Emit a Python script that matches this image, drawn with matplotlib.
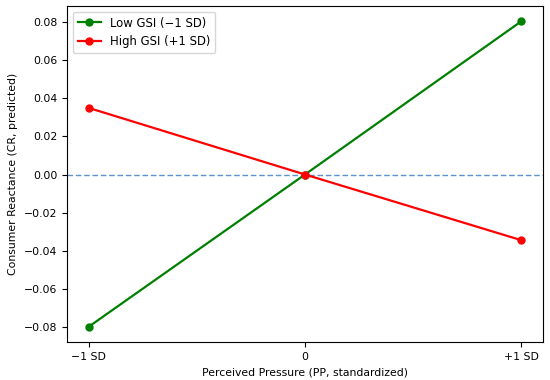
import matplotlib
matplotlib.use('Agg')
import matplotlib.pyplot as plt

# x positions (standardized PP) and labels
pp_levels = [-1, 0, 1]
pp_labels = ['\u22121 SD', '0', '+1 SD']

# predicted CR for each GSI level
cr_low_gsi = [-0.080, 0.0, 0.0805]
cr_high_gsi = [0.035, 0.0, -0.0345]

plt.rcParams['font.size'] = 7.8

fig = plt.figure(figsize=(5.5, 3.8), dpi=100)
ax = fig.add_axes([0.122, 0.1, 0.865, 0.884])

ax.plot(pp_levels, cr_low_gsi, marker='o', color='green', linewidth=1.6,
        markersize=5, label='Low GSI (\u22121 SD)')
ax.plot(pp_levels, cr_high_gsi, marker='o', color='red', linewidth=1.6,
        markersize=5, label='High GSI (+1 SD)')
ax.axhline(0, linestyle=(0, (4, 2)), linewidth=1.0, color='#5b93cc', zorder=1)

ax.set_xticks(pp_levels)
ax.set_xticklabels(pp_labels)
ax.set_xlabel('Perceived Pressure (PP, standardized)')
ax.set_ylabel('Consumer Reactance (CR, predicted)')
ax.legend(loc='upper left', fontsize=8.4)

fig.savefig('out.png')
